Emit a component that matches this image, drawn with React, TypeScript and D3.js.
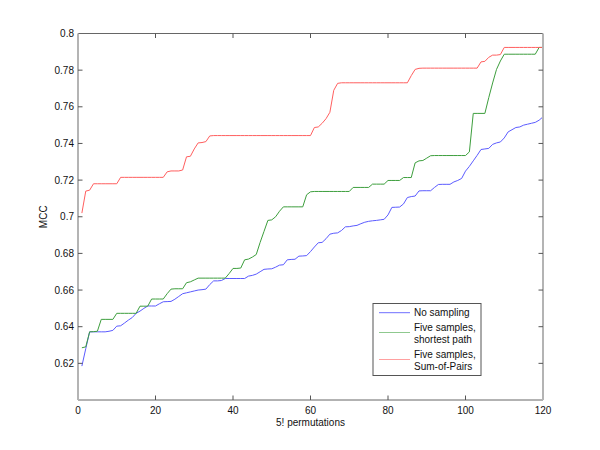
import React from "react";
import * as d3 from "d3";

const xTicks = [0, 20, 40, 60, 80, 100, 120];
const yTicks = [0.62, 0.64, 0.66, 0.68, 0.7, 0.72, 0.74, 0.76, 0.78, 0.8];

const noSampling = [
  0.6185, 0.628, 0.6372, 0.6372, 0.6372, 0.6372, 0.6372, 0.6375, 0.638, 0.6403,
  0.6405, 0.642, 0.6436, 0.645, 0.6473, 0.6485, 0.65, 0.6513, 0.6513, 0.6513,
  0.6525, 0.6536, 0.6537, 0.6538, 0.655, 0.6565, 0.658, 0.6585, 0.659, 0.6595,
  0.66, 0.6602, 0.6605, 0.663, 0.665, 0.665, 0.6652, 0.6663, 0.6663, 0.6663,
  0.6663, 0.6663, 0.6663, 0.6676, 0.668, 0.6687, 0.67, 0.6713, 0.6715, 0.6716,
  0.6725, 0.6736, 0.6738, 0.6765, 0.6767, 0.6768, 0.6785, 0.6786, 0.6788, 0.681,
  0.6835, 0.6858, 0.686, 0.688, 0.6905, 0.691, 0.6912, 0.6925, 0.6945, 0.6946,
  0.695, 0.6953, 0.6962, 0.697, 0.6975, 0.6978, 0.698, 0.6983, 0.6986, 0.701,
  0.7051, 0.7052, 0.7053, 0.707, 0.7105, 0.711, 0.7113, 0.7141, 0.7142, 0.7142,
  0.7142, 0.716, 0.7176, 0.7177, 0.7177, 0.7177, 0.719, 0.7198, 0.7209, 0.7249,
  0.7275, 0.7305, 0.7335, 0.7367, 0.737, 0.7373, 0.7395, 0.7403, 0.7408, 0.743,
  0.7463, 0.7475, 0.7487, 0.749, 0.75, 0.7505, 0.751, 0.7515, 0.7527, 0.7545,
];

const shortestPath = [
  0.6285, 0.629, 0.6372, 0.6373, 0.6375, 0.644, 0.644, 0.644, 0.644, 0.6473,
  0.6473, 0.6473, 0.6473, 0.6473, 0.6473, 0.6512, 0.6512, 0.6512, 0.6551, 0.6551,
  0.6551, 0.6551, 0.658, 0.6605, 0.6607, 0.6607, 0.6607, 0.664, 0.6645, 0.6655,
  0.6665, 0.6665, 0.6665, 0.6665, 0.6665, 0.6665, 0.6665, 0.6665, 0.669, 0.6718,
  0.6718, 0.672, 0.6765, 0.6769, 0.678, 0.6794, 0.686, 0.692, 0.698, 0.6983,
  0.7, 0.703, 0.7054, 0.7054, 0.7054, 0.7054, 0.7054, 0.7054, 0.712, 0.7136,
  0.7138, 0.7138, 0.7138, 0.7138, 0.7138, 0.7138, 0.7138, 0.7138, 0.7138, 0.7138,
  0.716, 0.716, 0.716, 0.716, 0.716, 0.7178, 0.7178, 0.7178, 0.7178, 0.7198,
  0.7198, 0.7198, 0.7198, 0.7214, 0.7214, 0.7214, 0.7294, 0.7305, 0.7307, 0.732,
  0.7333, 0.7334, 0.7334, 0.7334, 0.7334, 0.7334, 0.7334, 0.7334, 0.7334, 0.7334,
  0.7354, 0.7564, 0.7564, 0.7564, 0.7564, 0.765, 0.773, 0.7804, 0.785, 0.7887,
  0.7887, 0.7887, 0.7887, 0.7887, 0.7887, 0.7887, 0.7887, 0.7887, 0.7924, 0.7924,
];

const sumOfPairs = [
  0.702, 0.714, 0.7145, 0.718, 0.718, 0.718, 0.718, 0.718, 0.718, 0.718,
  0.7215, 0.7215, 0.7215, 0.7215, 0.7215, 0.7215, 0.7215, 0.7215, 0.7215, 0.7215,
  0.7215, 0.7215, 0.7245, 0.725, 0.725, 0.725, 0.7255, 0.7327, 0.733, 0.737,
  0.7403, 0.7405, 0.741, 0.7441, 0.7443, 0.7443, 0.7443, 0.7443, 0.7443, 0.7443,
  0.7443, 0.7443, 0.7443, 0.7443, 0.7443, 0.7443, 0.7443, 0.7443, 0.7443, 0.7443,
  0.7443, 0.7443, 0.7443, 0.7443, 0.7443, 0.7443, 0.7443, 0.7443, 0.7443, 0.7443,
  0.7487, 0.749, 0.751, 0.7535, 0.757, 0.769, 0.7728, 0.7731, 0.7731, 0.7731,
  0.7731, 0.7731, 0.7731, 0.7731, 0.7731, 0.7731, 0.7731, 0.7731, 0.7731, 0.7731,
  0.7731, 0.7731, 0.7731, 0.7731, 0.7731, 0.777, 0.7804, 0.781, 0.7811, 0.7811,
  0.7811, 0.7811, 0.7811, 0.7811, 0.7811, 0.7811, 0.7811, 0.7811, 0.7811, 0.7811,
  0.7811, 0.7811, 0.7811, 0.7845, 0.7848, 0.787, 0.7882, 0.7882, 0.7885, 0.7924,
  0.7924, 0.7924, 0.7924, 0.7924, 0.7924, 0.7924, 0.7924, 0.7924, 0.7924, 0.7924,
];

const seriesNames = [["No sampling"], ["Five samples,", "shortest path"], ["Five samples,", "Sum-of-Pairs"]];
const seriesColors = ["#5b5bff", "#3d9e3d", "#ff5f5f"];
const legendColors = ["#6f6fff", "#8fc98f", "#ffa0a0"];

export default function App() {
  const W = 600, H = 450;
  const left = 78, right = 543, top = 33.5, bottom = 400;
  const x = d3.scaleLinear().domain([0, 120]).range([left, right]);
  const y = d3.scaleLinear().domain([0.6, 0.8]).range([bottom, top]);
  const all = [noSampling, shortestPath, sumOfPairs];
  const line = d3
    .line<number>()
    .x((_, i) => x(i + 1))
    .y((d) => y(d));
  const font = "'Liberation Sans', Arial, sans-serif";
  const tickLen = 4.5;
  const fmt = (v: number) => String(+v.toFixed(2));

  const legX = 373, legY = 303.5, legW = 108, legH = 72;
  const rowY = [312.7, 332.5, 359.5];
  const textY = [[312.7], [327.3, 339.3], [354.3, 366.3]];

  return (
    <svg width={W} height={H} style={{ position: "absolute", left: 0, top: 0, background: "#fff" }} fontFamily={font}>
      <rect x={0} y={0} width={W} height={H} fill="#fff" />
      <defs>
        <clipPath id="plotclip">
          <rect x={left} y={top - 1} width={right - left} height={bottom - top + 2} />
        </clipPath>
      </defs>
      {/* series */}
      <g clipPath="url(#plotclip)">
        {all.map((s, k) => (
          <path key={k} d={line(s) || ""} fill="none" stroke={seriesColors[k]} strokeWidth={1} />
        ))}
      </g>
      {/* axes box */}
      <line x1={left} x2={right} y1={top} y2={top} stroke="#666" strokeWidth={1} />
      <line x1={left} x2={right} y1={bottom} y2={bottom} stroke="#666" strokeWidth={1} />
      <line x1={left} x2={left} y1={top} y2={bottom} stroke="#b4b4b4" strokeWidth={2} />
      <line x1={right} x2={right} y1={top} y2={bottom} stroke="#b4b4b4" strokeWidth={2} />
      {/* x ticks */}
      {xTicks.map((t) => (
        <g key={"x" + t}>
          {t > 0 && t < 120 && (
            <>
              <line x1={x(t)} x2={x(t)} y1={bottom} y2={bottom - tickLen} stroke="#555" />
              <line x1={x(t)} x2={x(t)} y1={top} y2={top + tickLen} stroke="#555" />
            </>
          )}
          <text x={x(t)} y={410} textAnchor="middle" dominantBaseline="central" fontSize={10} fill="#111">
            {t}
          </text>
        </g>
      ))}
      {/* y ticks */}
      {yTicks.map((t) => (
        <g key={"y" + t}>
          {t < 0.8 && (
            <>
              <line x1={left} x2={left + tickLen} y1={y(t)} y2={y(t)} stroke="#555" />
              <line x1={right} x2={right - tickLen} y1={y(t)} y2={y(t)} stroke="#555" />
            </>
          )}
          <text x={74} y={y(t)} textAnchor="end" dominantBaseline="central" fontSize={10} fill="#111">
            {fmt(t)}
          </text>
        </g>
      ))}
      {/* axis labels */}
      <text x={(left + right) / 2} y={422.5} textAnchor="middle" dominantBaseline="central" fontSize={10} fill="#111">
        5! permutations
      </text>
      <text
        transform={`translate(43,${(top + bottom) / 2}) rotate(-90)`}
        textAnchor="middle"
        dominantBaseline="central"
        fontSize={10}
        fill="#111"
      >
        MCC
      </text>
      {/* legend */}
      <rect x={legX} y={legY} width={legW} height={legH} fill="#fff" stroke="#555" strokeWidth={1} />
      {seriesNames.map((names, k) => (
        <g key={"leg" + k}>
          <line x1={379} x2={410} y1={rowY[k]} y2={rowY[k]} stroke={legendColors[k]} strokeWidth={1} />
          {names.map((n, j) => (
            <text key={j} x={414} y={textY[k][j]} dominantBaseline="central" fontSize={10} fill="#111">
              {n}
            </text>
          ))}
        </g>
      ))}
    </svg>
  );
}
